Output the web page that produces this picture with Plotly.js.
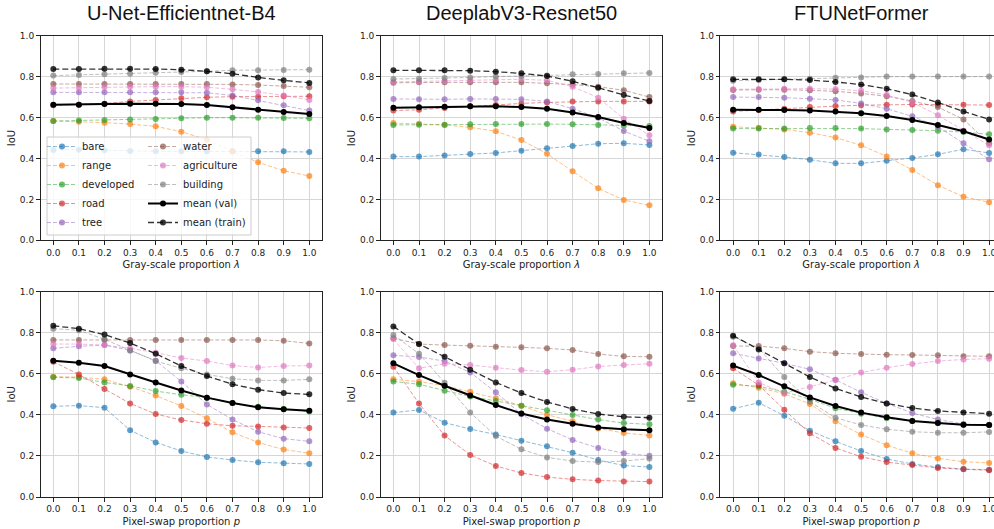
<!DOCTYPE html>
<html><head><meta charset="utf-8">
<script src="https://cdn.plot.ly/plotly-3.0.1.min.js"></script>
<style>html,body{margin:0;padding:0;overflow:hidden;background:#fff}#chart{width:1008px;height:529px}</style>
</head><body><div id="chart"></div><script>
// ---------- data ----------
const props = [0.0, 0.1, 0.2, 0.3, 0.4, 0.5, 0.6, 0.7, 0.8, 0.9, 1.0];
const seriesNames = ['bare', 'range', 'developed', 'road', 'tree', 'water', 'agriculture', 'building', 'mean (val)', 'mean (train)'];
const modelNames = ['U-Net-Efficientnet-B4', 'DeeplabV3-Resnet50', 'FTUNetFormer'];
const xTitleGray = 'Gray-scale proportion <i>λ</i>';
const xTitleSwap = 'Pixel-swap proportion <i>p</i>';
const yTitle = 'IoU';

// rows: bare, range, developed, road, tree, water, agriculture, building, mean(val), mean(train)
const unetGray = [
  [.441,.443,.440,.436,.435,.435,.435,.435,.435,.435,.432],
  [.583,.580,.575,.568,.557,.531,.492,.435,.381,.340,.314],
  [.583,.586,.588,.590,.593,.596,.599,.599,.599,.598,.596],
  [.660,.663,.668,.679,.686,.694,.699,.702,.702,.704,.704],
  [.723,.723,.723,.723,.723,.723,.721,.708,.684,.660,.634],
  [.764,.764,.764,.764,.764,.764,.764,.762,.759,.754,.748],
  [.744,.746,.749,.751,.751,.751,.748,.738,.725,.708,.686],
  [.805,.808,.811,.814,.819,.822,.826,.831,.831,.832,.834],
  [.663,.663,.666,.668,.668,.666,.661,.650,.638,.627,.617],
  [.837,.837,.839,.839,.837,.834,.826,.814,.796,.782,.769]
];
const deeplabGray = [
  [.409,.409,.415,.422,.427,.438,.450,.461,.472,.474,.466],
  [.573,.570,.564,.552,.533,.490,.423,.337,.254,.197,.171],
  [.564,.565,.565,.567,.568,.568,.568,.567,.564,.560,.559],
  [.634,.638,.647,.655,.661,.669,.674,.678,.679,.679,.679],
  [.691,.689,.689,.691,.691,.689,.679,.643,.599,.534,.484],
  [.770,.772,.772,.772,.772,.772,.767,.761,.751,.733,.700],
  [.774,.775,.779,.782,.785,.787,.782,.751,.697,.594,.513],
  [.788,.790,.793,.796,.800,.803,.806,.811,.813,.816,.818],
  [.648,.650,.653,.655,.655,.651,.643,.625,.603,.573,.549],
  [.831,.831,.831,.829,.824,.816,.803,.777,.746,.710,.681]
];
const ftuGray = [
  [.428,.419,.407,.394,.376,.376,.389,.402,.420,.445,.427],
  [.555,.550,.542,.526,.502,.464,.410,.344,.269,.213,.186],
  [.546,.546,.547,.549,.549,.546,.542,.539,.536,.529,.518],
  [.630,.637,.643,.651,.656,.660,.663,.664,.663,.663,.661],
  [.700,.700,.697,.692,.686,.669,.643,.606,.555,.474,.396],
  [.735,.736,.736,.733,.728,.718,.704,.681,.651,.591,.474],
  [.738,.739,.741,.741,.739,.731,.710,.674,.611,.536,.464],
  [.780,.783,.787,.790,.795,.796,.800,.800,.800,.800,.800],
  [.638,.638,.637,.634,.629,.621,.607,.588,.564,.533,.493],
  [.787,.787,.787,.783,.774,.761,.741,.712,.673,.630,.591]
];
const unetSwap = [
  [.442,.445,.435,.325,.266,.224,.195,.180,.169,.164,.161],
  [.586,.584,.573,.537,.494,.443,.383,.315,.266,.231,.213],
  [.583,.580,.558,.541,.516,.498,.484,.458,.440,.429,.416],
  [.659,.597,.526,.456,.404,.375,.357,.347,.344,.339,.336],
  [.724,.734,.740,.714,.664,.563,.451,.377,.318,.284,.271],
  [.765,.765,.765,.765,.765,.765,.765,.765,.765,.761,.748],
  [.745,.745,.740,.724,.703,.677,.662,.640,.631,.638,.640],
  [.820,.812,.768,.714,.662,.627,.597,.576,.568,.568,.573],
  [.664,.654,.638,.597,.558,.519,.484,.458,.437,.427,.420],
  [.834,.820,.791,.750,.698,.638,.589,.549,.523,.506,.500]
];
const deeplabSwap = [
  [.411,.424,.362,.331,.304,.274,.247,.216,.180,.153,.146],
  [.573,.562,.542,.513,.481,.445,.401,.369,.334,.312,.300],
  [.563,.549,.518,.490,.468,.445,.422,.399,.377,.360,.354],
  [.635,.455,.299,.205,.151,.117,.097,.086,.080,.076,.075],
  [.690,.682,.662,.607,.510,.403,.333,.278,.239,.213,.201],
  [.773,.745,.740,.737,.732,.729,.724,.716,.696,.685,.683],
  [.769,.627,.649,.643,.630,.618,.610,.620,.636,.643,.649],
  [.789,.698,.557,.411,.297,.232,.193,.175,.170,.175,.187],
  [.651,.594,.542,.494,.448,.407,.378,.357,.339,.330,.325],
  [.831,.745,.683,.620,.558,.506,.463,.429,.404,.391,.386]
];
const ftuSwap = [
  [.430,.459,.396,.323,.271,.224,.185,.161,.146,.136,.133],
  [.554,.532,.503,.453,.369,.304,.252,.213,.188,.172,.166],
  [.547,.539,.513,.476,.432,.406,.383,.370,.360,.352,.351],
  [.627,.545,.425,.310,.239,.196,.170,.156,.141,.135,.130],
  [.700,.675,.651,.622,.571,.510,.456,.409,.377,.356,.351],
  [.735,.735,.724,.708,.700,.696,.693,.692,.690,.685,.685],
  [.739,.558,.505,.536,.570,.606,.630,.648,.662,.670,.674],
  [.781,.724,.584,.464,.386,.351,.330,.318,.313,.313,.317],
  [.640,.594,.539,.485,.443,.411,.388,.370,.360,.352,.351],
  [.786,.719,.651,.584,.529,.487,.456,.433,.419,.411,.406]
];

// ---------- layout / styling ----------
const W = 1008, H = 529;
const colPx = [[40.5, 322.1], [380.6, 662.2], [720.3, 1001.9]];
const rowPx = [[35.7, 240.3], [291.7, 497.0]];
const tab = [[31,119,180],[255,127,14],[44,160,44],[214,39,40],[148,103,189],[140,86,75],[227,119,194],[127,127,127]];
const rgba = (c, a) => `rgba(${c[0]},${c[1]},${c[2]},${a})`;
const FONT = 'DejaVu Sans';

const panels = [
  {data: unetGray, row: 0, col: 0}, {data: deeplabGray, row: 0, col: 1}, {data: ftuGray, row: 0, col: 2},
  {data: unetSwap, row: 1, col: 0}, {data: deeplabSwap, row: 1, col: 1}, {data: ftuSwap, row: 1, col: 2}
];

const traces = [];
const layout = {
  width: W, height: H, margin: {l: 0, r: 0, t: 0, b: 0},
  paper_bgcolor: '#fff', plot_bgcolor: '#fff',
  font: {family: FONT, size: 10, color: '#222'},
  annotations: [], shapes: []
};

panels.forEach((p, pi) => {
  const sfx = pi === 0 ? '' : String(pi + 1);
  seriesNames.forEach((name, si) => {
    const t = {
      type: 'scatter', mode: 'lines+markers', x: props, y: p.data[si],
      xaxis: 'x' + sfx, yaxis: 'y' + sfx, name: name,
      showlegend: pi === 0, legend: si < 5 ? 'legend' : 'legend2',
      cliponaxis: false, hoverinfo: 'skip'
    };
    if (si < 8) {
      t.line = {color: rgba(tab[si], 0.5), width: 1, dash: '4px,2px'};
      t.marker = {color: rgba(tab[si], 0.7), size: 6};
    } else if (si === 8) {
      t.line = {color: '#000', width: 2};
      t.marker = {color: '#000', size: 6};
    } else {
      t.line = {color: 'rgba(0,0,0,0.8)', width: 1.3, dash: '6px,3px'};
      t.marker = {color: 'rgba(0,0,0,0.8)', size: 6};
    }
    traces.push(t);
  });
  const cx = colPx[p.col], ry = rowPx[p.row];
  layout['xaxis' + sfx] = {
    domain: [cx[0] / W, cx[1] / W], anchor: 'y' + sfx, range: [-0.05, 1.05],
    tick0: 0, dtick: 0.1, tickformat: '.1f',
    showgrid: true, gridcolor: '#d6d6d6', gridwidth: 1, zeroline: false,
    showline: true, mirror: true, linecolor: '#222', linewidth: 1,
    ticks: 'outside', ticklen: 3.5, tickwidth: 1, tickcolor: '#222',
    tickfont: {family: FONT, size: 9, color: '#222'}, fixedrange: true,
    title: {text: p.row === 0 ? xTitleGray : xTitleSwap, font: {family: FONT, size: 10, color: '#222'}, standoff: 4}
  };
  layout['yaxis' + sfx] = {
    domain: [1 - ry[1] / H, 1 - ry[0] / H], anchor: 'x' + sfx, range: [0, 1],
    tick0: 0, dtick: 0.2, tickformat: '.1f',
    showgrid: true, gridcolor: '#d6d6d6', gridwidth: 1, zeroline: false,
    showline: true, mirror: true, linecolor: '#222', linewidth: 1,
    ticks: 'outside', ticklen: 3.5, tickwidth: 1, tickcolor: '#222',
    tickfont: {family: FONT, size: 9, color: '#222'}, fixedrange: true,
    title: {text: yTitle, font: {family: FONT, size: 10, color: '#222'}, standoff: 2}
  };
  if (p.row === 0) {
    layout.annotations.push({
      text: modelNames[p.col], xref: 'paper', yref: 'paper',
      x: (cx[0] + cx[1]) / 2 / W, y: 1 - 13 / H, xanchor: 'center', yanchor: 'middle',
      showarrow: false, font: {family: 'Liberation Sans', size: 20, color: '#111'}
    });
  }
});

const legBottom = 237;
layout.legend = {x: 42 / W, y: 1 - legBottom / H, xanchor: 'left', yanchor: 'bottom',
  bgcolor: 'rgba(0,0,0,0)', borderwidth: 0, itemwidth: 30, tracegroupgap: 0, traceorder: 'normal',
  font: {family: FONT, size: 10, color: '#222'}};
layout.legend2 = {x: 143 / W, y: 1 - legBottom / H, xanchor: 'left', yanchor: 'bottom',
  bgcolor: 'rgba(0,0,0,0)', borderwidth: 0, itemwidth: 30, tracegroupgap: 0, traceorder: 'normal',
  font: {family: FONT, size: 10, color: '#222'}};
layout.shapes.push({type: 'rect', xref: 'paper', yref: 'paper', layer: 'above',
  x0: 47 / W, x1: 251 / W, y0: 1 - (legBottom - 2) / H, y1: 1 - (legBottom - 100) / H,
  fillcolor: 'rgba(255,255,255,0.8)', line: {color: '#cccccc', width: 1}});

Plotly.newPlot('chart', traces, layout, {displayModeBar: false, staticPlot: true});
</script></body></html>
